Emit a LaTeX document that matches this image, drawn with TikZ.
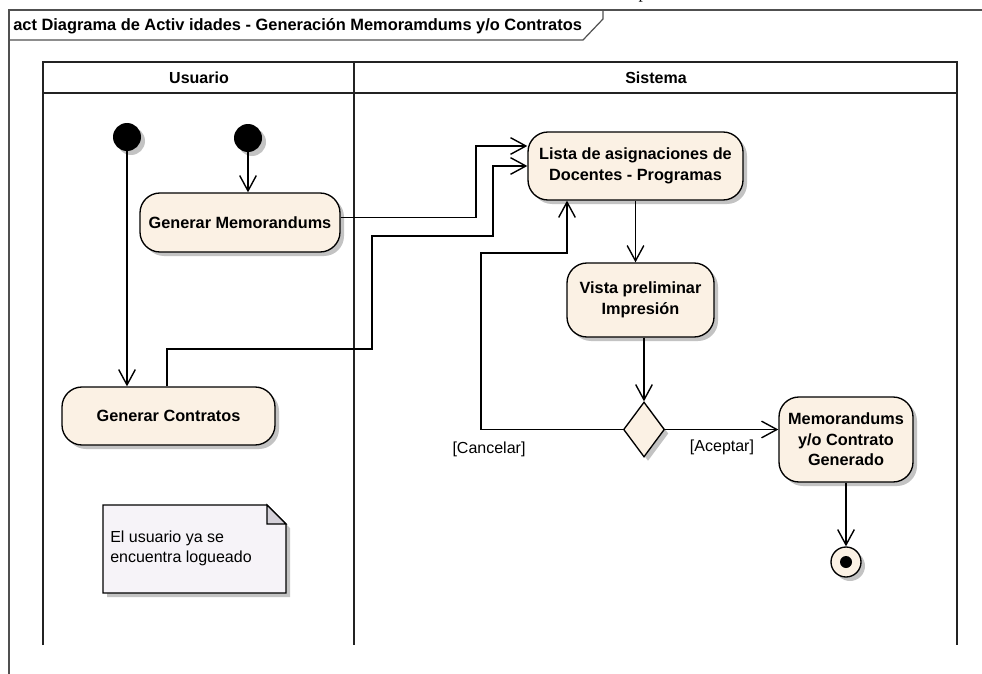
\documentclass[tikz,border=0pt]{standalone}
\usepackage{fontspec}
\setmainfont{Liberation Sans}
\newfontfamily\seriffont{Liberation Serif}
\usetikzlibrary{arrows.meta,shapes.geometric,shadows}
\definecolor{actfill}{RGB}{251,241,228}
\definecolor{notefill}{RGB}{246,243,248}
\definecolor{foldfill}{RGB}{212,208,216}
\definecolor{shadowc}{RGB}{195,195,195}
\definecolor{framec}{RGB}{80,80,80}
\definecolor{lanec}{RGB}{35,35,35}
\begin{document}
\begin{tikzpicture}[x=0.75pt,y=-0.75pt,
  every node/.style={font=\fontsize{12}{15}\selectfont},
  shad/.style={drop shadow={shadow xshift=3pt,shadow yshift=-3pt,fill=shadowc,opacity=1}},
  act/.style={draw=black, line width=1pt, fill=actfill, rounded corners=15pt,
    align=center, inner sep=0pt, shad,
    font=\bfseries\fontsize{12.2}{15.5}\selectfont},
  lanehead/.style={font=\bfseries\fontsize{12}{15}\selectfont},
  initnode/.style={circle, fill=black, minimum size=21pt, inner sep=0pt, shad},
  decision/.style={diamond, draw=black, line width=1pt, fill=actfill, inner sep=0pt,
    minimum width=30.75pt, minimum height=41.25pt, shad},
  flow/.style={draw=black, line width=1.05pt, -{Straight Barb[length=11.5pt,width=12.5pt,line width=1.05pt]}},
  guard/.style={font=\fontsize{12}{15}\selectfont},
  lane/.style={draw=lanec, line width=1.7pt},
  framel/.style={draw=framec, line width=0.9pt}
]
\useasboundingbox (0,0) rectangle (982,674);
\fill[white] (0,0) rectangle (982,674);

% stray fragment of text above
\node[anchor=base, font=\seriffont\fontsize{13}{15}\selectfont, inner sep=0pt] (frag) at (643,-1.5) {p};

% frame
\draw[framel] (9,674) -- (9,10) -- (982,10);
\draw[framel] (9,40) -- (583,40) -- (603,19) -- (603,10);
\node[anchor=west, font=\bfseries\fontsize{12.3}{14}\selectfont, inner sep=0pt] (title) at (13,26)
  {act Diagrama de Activ idades - Generación Memoramdums y/o Contratos};

% swimlanes
\draw[lane] (43,645) -- (43,62) -- (957,62) -- (957,645);
\draw[lane] (43,93) -- (957,93);
\draw[lane] (354,62) -- (354,645);
\node[lanehead] (usuario) at (199,78) {Usuario};
\node[lanehead] (sistema) at (656,78) {Sistema};

% note
\fill[shadowc] (107,509) -- (271,509) -- (290,528) -- (290,597) -- (107,597) -- cycle;
\draw[line width=0.9pt, fill=notefill] (103,505) -- (267,505) -- (286,524) -- (286,593) -- (103,593) -- cycle;
\draw[line width=0.9pt, fill=foldfill] (267,505) -- (267,524) -- (286,524) -- cycle;
\node[anchor=west, align=left, inner sep=0pt] (notetxt) at (110,548) {El usuario ya se\\encuentra logueado};

% nodes
\node[initnode] (i1) at (127,137) {};
\node[initnode] (i2) at (248,138) {};
\node[act, minimum width=150pt, minimum height=44.25pt] (memo) at (240,222.5) {Generar Memorandums};
\node[act, minimum width=159.75pt, minimum height=43.5pt] (contr) at (168.5,416) {Generar Contratos};
\node[act, minimum width=161.25pt, minimum height=51pt] (lista) at (635.5,166) {Lista de asignaciones de\\Docentes - Programas};
\node[act, minimum width=110.25pt, minimum height=55.5pt] (vista) at (640.5,300) {Vista preliminar\\Impresión};
\node[decision] (dec) at (644,429.5) {};
\node[act, minimum width=100.5pt, minimum height=63.75pt] (res) at (846,439.5) {Memorandums\\y/o Contrato\\Generado};
\node[circle, draw=black, line width=1pt, fill=actfill, minimum size=22.5pt, inner sep=0pt, shad] (fin) at (846,562) {};
\node[circle, fill=black, minimum size=9pt, inner sep=0pt] (findot) at (fin.center) {};

% waypoints
\coordinate (m1) at (476,146);
\coordinate (c1) at (167,349);
\coordinate (c2) at (372,349);
\coordinate (c3) at (372,236);
\coordinate (c4) at (493,236);
\coordinate (c5) at (493,166);
\coordinate (k1) at (481,253);
\coordinate (k2) at (567,253);

% connectors
\draw[flow] (i1) -- (contr.north -| i1);
\draw[flow] (i2) -- (memo.north -| i2);
\draw[flow] ([yshift=3.75pt]memo.east) -| (m1) -- (lista.west |- m1);
\draw[flow] (contr.north -| c1) -- (c1) -- (c2) -- (c3) -- (c4) -- (c5) -- (lista.west |- c5);
\draw[flow] (lista.south) -- (vista.north -| lista.south);
\draw[flow] (vista.south -| dec.north) -- (dec.north);
\draw[flow] (dec.east) -- (res.west |- dec.east);
\draw[flow] (dec.west) -| (k1) -- (k2) -- (lista.south -| k2);
\draw[flow] (res.south) -- (fin.north);

% guards
\node[guard] (cancelar) at (489,449) {[Cancelar]};
\node[guard] (aceptar) at (722,447) {[Aceptar]};
\end{tikzpicture}
\end{document}
